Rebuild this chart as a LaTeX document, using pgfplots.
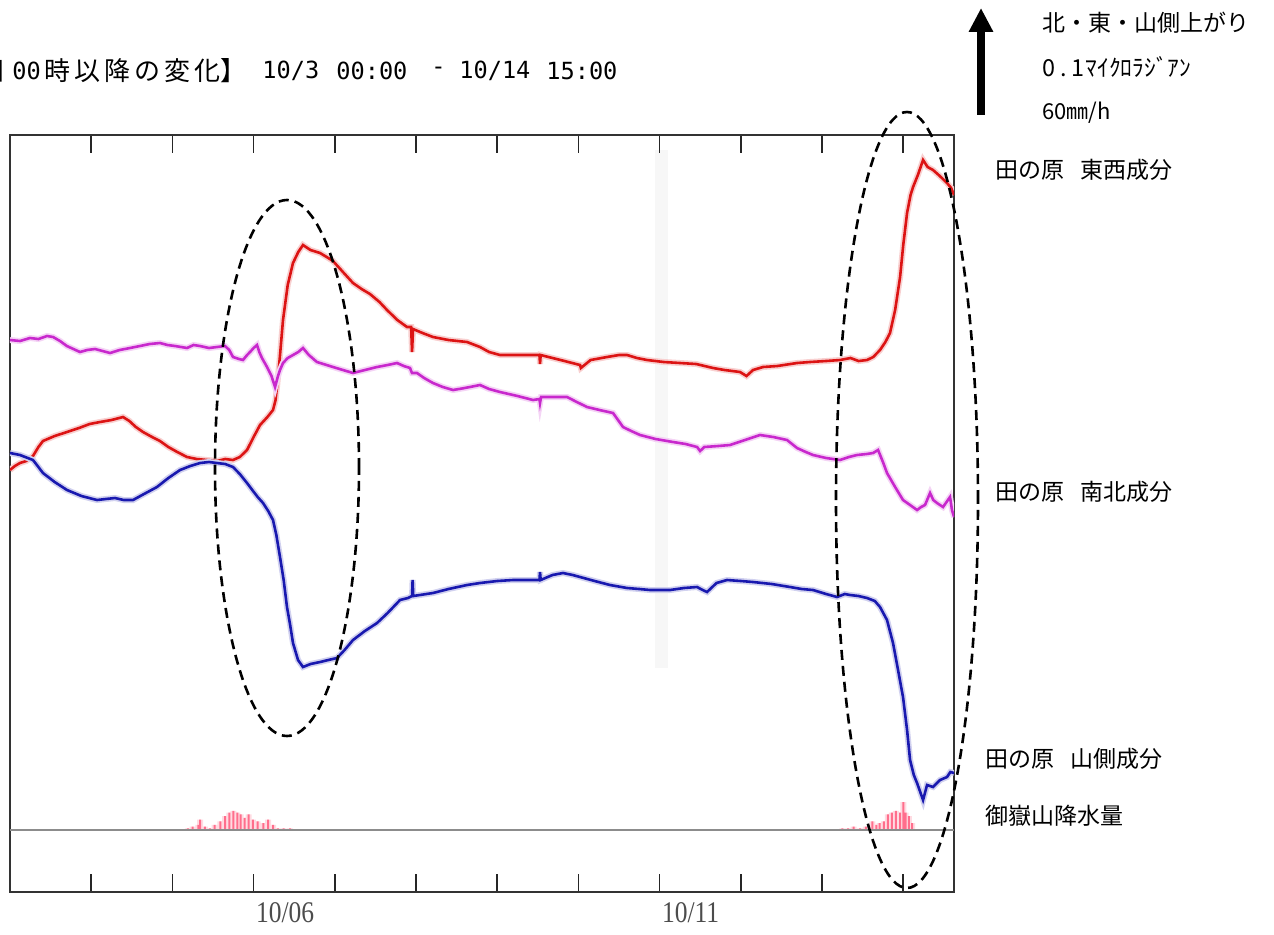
\documentclass[border=0pt]{standalone}
\usepackage{fontspec}
\usepackage{pgfplots}
\pgfplotsset{compat=1.18}
\usetikzlibrary{arrows.meta}
\setmainfont{Noto Sans CJK JP}
\newfontfamily\monofont{DejaVu Sans Mono}
\newfontfamily\tickfont[FakeStretch=0.85]{Liberation Serif}
\definecolor{ewred}{RGB}{220,20,20}
\definecolor{nsmag}{RGB}{200,40,205}
\definecolor{mtblue}{RGB}{25,25,175}
\definecolor{rainpink}{RGB}{255,110,140}

\begin{document}
\begin{tikzpicture}
\useasboundingbox (0pt,0pt) rectangle (637pt,467pt);
% faint vertical band
\fill[black!3] (327.5pt,133pt) rectangle (334pt,392pt);

% rain axis (mm/h), baseline at the grey line
\begin{axis}[at={(5pt,21pt)}, anchor=south west, scale only axis,
  width=472pt, height=378.5pt, hide axis, clip=true,
  xmin=0, xmax=11.625, ymin=-35.43, ymax=397.14]
\addplot[ybar, bar shift=0pt, bar width=3pt, fill=rainpink!25, draw=none] coordinates {
(2.19,1)(2.25,2)(2.32,3)(2.34,6)(2.40,2)(2.46,1)(2.52,3)(2.59,5)(2.65,8)(2.70,10)(2.75,11)(2.80,10)(2.84,9)(2.89,7)(2.94,9)(2.99,6)(3.05,5)(3.12,4)(3.18,6)(3.24,3)(3.30,1)(3.37,1)(3.45,1)
(10.25,1)(10.32,1)(10.39,2)(10.47,1)(10.54,2)(10.62,5)(10.67,3)(10.71,4)(10.76,5)(10.81,9)(10.86,10)(10.91,11)(10.96,10)(11.00,16)(11.03,10)(11.07,8)(11.11,4)};
\addplot[ybar, bar shift=0pt, bar width=1pt, fill=rainpink, draw=none] coordinates {
(2.19,1)(2.25,2)(2.32,3)(2.34,6)(2.40,2)(2.46,1)(2.52,3)(2.59,5)(2.65,8)(2.70,10)(2.75,11)(2.80,10)(2.84,9)(2.89,7)(2.94,9)(2.99,6)(3.05,5)(3.12,4)(3.18,6)(3.24,3)(3.30,1)(3.37,1)(3.45,1)
(10.25,1)(10.32,1)(10.39,2)(10.47,1)(10.54,2)(10.62,5)(10.67,3)(10.71,4)(10.76,5)(10.81,9)(10.86,10)(10.91,11)(10.96,10)(11.00,16)(11.03,10)(11.07,8)(11.11,4)};
\end{axis}

% tilt axis (values in chart rows, downward)
\begin{axis}[at={(5pt,21pt)}, anchor=south west, scale only axis,
  width=472pt, height=378.5pt, clip=true,
  xmin=0, xmax=11.625, ymin=135, ymax=892, y dir=reverse,
  axis line style={black!80, line width=0.8pt},
  xtick={1,...,11}, xticklabels={,,10/06,,,,,10/11,,,},
  ytick=\empty, xtick pos=both, xticklabel pos=lower,
  tick align=inside, major tick length=9pt,
  tick style={black!85, line width=0.8pt},
  xticklabel style={font=\tickfont\fontsize{15pt}{15pt}\selectfont, text=black!70, anchor=north west, inner sep=0pt, yshift=-5pt, xshift=1pt}]
\addplot[black!45, line width=0.8pt] coordinates {(0,830)(11.625,830)};
\addplot[ewred, line width=1.3pt, preaction={draw=ewred!20, line width=3pt}] coordinates {
(0.000,470)(0.06,466)(0.123,463)(0.20,461)(0.283,456)(0.35,447)(0.406,441)(0.55,436)(0.702,432)(0.85,428)(0.98,424)(1.108,422)(1.25,420)(1.392,417)(1.47,421)(1.55,427)(1.638,432)(1.75,437)(1.847,441)(1.95,447)(2.06,452)(2.180,457)(2.30,459)(2.426,460)(2.55,461)(2.65,459)(2.746,460)(2.83,457)(2.919,450)(3.00,437)(3.079,425)(3.17,417)(3.239,410)(3.27,400)(3.288,387)(3.32,360)(3.362,320)(3.42,285)(3.485,263)(3.55,252)(3.608,245)(3.70,250)(3.818,253)(3.90,257)(3.978,261)(4.10,272)(4.224,283)(4.33,289)(4.433,294)(4.55,302)(4.643,310)(4.77,320)(4.889,327)(4.94,327)(4.951,352)(4.963,329)(5.08,333)(5.209,337)(5.40,340)(5.628,342)(5.788,347)(5.90,352)(6.034,355)(6.30,355)(6.52,355)(6.527,364)(6.535,355)(6.78,360)(7.020,365)(7.03,368)(7.15,360)(7.352,357)(7.50,355)(7.599,355)(7.72,358)(7.845,360)(8.05,362)(8.251,363)(8.45,364)(8.658,368)(8.80,370)(8.990,372)(9.07,376)(9.15,370)(9.273,367)(9.45,366)(9.692,363)(9.85,362)(10.05,361)(10.222,360)(10.35,358)(10.45,361)(10.554,360)(10.63,357)(10.714,350)(10.78,342)(10.837,333)(10.90,310)(10.961,277)(11.00,245)(11.047,213)(11.09,195)(11.121,187)(11.18,175)(11.244,160)(11.30,167)(11.367,170)(11.45,176)(11.539,183)(11.59,188)(11.626,195)};
\addplot[nsmag, line width=1.3pt, preaction={draw=nsmag!20, line width=3pt}] coordinates {
(0,340)(0.123,341)(0.246,338)(0.35,339)(0.456,336)(0.53,337)(0.616,341)(0.70,346)(0.862,352)(0.95,350)(1.047,349)(1.14,351)(1.232,353)(1.35,350)(1.478,348)(1.60,346)(1.72,344)(1.847,343)(1.94,345)(2.032,346)(2.180,348)(2.26,345)(2.340,346)(2.45,348)(2.549,347)(2.648,346)(2.70,350)(2.746,357)(2.82,359)(2.869,360)(2.92,355)(2.956,352)(3.00,348)(3.042,345)(3.07,352)(3.103,358)(3.165,367)(3.22,376)(3.264,387)(3.30,376)(3.325,370)(3.362,363)(3.42,358)(3.485,355)(3.55,352)(3.608,348)(3.68,355)(3.780,362)(3.978,367)(4.10,370)(4.224,373)(4.37,370)(4.520,367)(4.65,365)(4.766,363)(4.85,366)(4.926,368)(4.95,373)(5.012,373)(5.10,378)(5.209,383)(5.33,387)(5.456,390)(5.60,388)(5.788,385)(5.90,389)(6.034,392)(6.25,396)(6.441,400)(6.52,399)(6.527,403)(6.54,397)(6.70,397)(6.860,397)(6.98,402)(7.106,407)(7.26,410)(7.426,413)(7.549,427)(7.65,431)(7.759,435)(7.95,439)(8.165,442)(8.32,444)(8.461,447)(8.498,451)(8.55,447)(8.72,446)(8.867,445)(9.05,440)(9.236,435)(9.40,437)(9.569,440)(9.692,448)(9.80,452)(9.889,455)(10.05,458)(10.222,460)(10.33,457)(10.431,455)(10.55,454)(10.628,453)(10.690,450)(10.75,462)(10.800,473)(10.90,487)(10.997,500)(11.084,505)(11.170,510)(11.22,507)(11.268,505)(11.330,493)(11.37,500)(11.416,503)(11.490,507)(11.576,497)(11.60,510)(11.626,517)};
\addplot[mtblue, line width=1.3pt, preaction={draw=mtblue!20, line width=3pt}] coordinates {
(0,453)(0.123,455)(0.283,460)(0.35,467)(0.406,473)(0.55,482)(0.702,490)(0.88,496)(1.071,500)(1.18,499)(1.293,498)(1.40,500)(1.515,500)(1.65,494)(1.810,487)(1.95,478)(2.094,470)(2.22,466)(2.340,463)(2.45,462)(2.549,463)(2.65,464)(2.746,467)(2.83,474)(2.919,483)(2.993,491)(3.05,497)(3.116,503)(3.18,511)(3.239,520)(3.28,535)(3.325,557)(3.37,580)(3.411,607)(3.45,625)(3.485,643)(3.547,660)(3.608,667)(3.70,664)(3.818,662)(3.92,660)(4.027,658)(4.12,650)(4.224,640)(4.37,631)(4.520,623)(4.65,613)(4.803,600)(4.90,598)(4.951,596)(4.958,580)(4.966,596)(5.209,593)(5.40,589)(5.628,585)(5.788,583)(6.00,581)(6.195,580)(6.35,580)(6.52,580)(6.527,572)(6.535,580)(6.68,575)(6.810,573)(6.93,575)(7.020,577)(7.20,581)(7.389,585)(7.599,588)(7.75,589)(7.882,590)(8.128,590)(8.30,588)(8.461,587)(8.53,590)(8.584,592)(8.70,583)(8.830,580)(9.00,581)(9.150,582)(9.38,584)(9.606,587)(9.75,589)(9.889,590)(10.05,594)(10.185,597)(10.28,594)(10.345,595)(10.45,596)(10.554,598)(10.65,601)(10.714,607)(10.800,620)(10.874,643)(10.936,670)(10.997,697)(11.047,730)(11.084,760)(11.13,775)(11.170,783)(11.244,800)(11.293,785)(11.367,787)(11.453,780)(11.539,777)(11.58,772)(11.626,773)};
\end{axis}

% annotation ellipses
\draw[black, line width=1.3pt, dash pattern=on 5pt off 3pt] (143.5pt,233pt) ellipse [x radius=36pt, y radius=134pt];
\draw[black, line width=1.3pt, dash pattern=on 5pt off 3pt] (453.5pt,217pt) ellipse [x radius=35.5pt, y radius=194pt];

% title (left part cut off by the picture edge, as in the original)
\tikzset{ttl/.style={inner sep=0pt, font=\fontsize{13pt}{13pt}\selectfont},
         ttm/.style={anchor=west, inner sep=0pt, font=\monofont\fontsize{11.8pt}{11.8pt}\selectfont}}
\node[ttl, anchor=east] at (3.5pt,431.5pt) {【10月3日};
\node[ttm] at (6pt,431.5pt) {00};
\node[ttl, anchor=west] at (22pt,431.5pt) {時\kern2pt 以\kern2pt 降\kern2pt の\kern2pt 変\kern2pt 化】};
\node[ttm] at (131pt,431.5pt) {10/3};
\node[ttm] at (168pt,431.5pt) {00:00};
\node[ttm] at (215.5pt,431.5pt) {-};
\node[ttm] at (229.5pt,431.5pt) {10/14};
\node[ttm] at (273pt,431.5pt) {15:00};

% arrow and legend text
\draw[line width=4pt, -{Triangle[width=11.5pt,length=12pt]}] (490.5pt,409.5pt) -- (490.5pt,463pt);
\node[anchor=west, inner sep=0pt, font=\fontsize{11.5pt}{11.5pt}\selectfont] at (521pt,455.5pt) {北・東・山側上がり};
\node[anchor=west, inner sep=0pt, font=\fontsize{11.7pt}{11.7pt}\selectfont] at (521pt,433.5pt) {0\kern2.5pt.\kern2.5pt1\kern0.5pt ﾏｲｸﾛﾗｼﾞｱﾝ};
\node[anchor=west, inner sep=0pt, font=\fontsize{11pt}{11pt}\selectfont] at (521pt,410.5pt) {60㎜/h};
\node[anchor=west, inner sep=0pt, font=\fontsize{11.5pt}{11.5pt}\selectfont] at (497.5pt,382pt) {田の原\hspace{8pt}東西成分};
\node[anchor=west, inner sep=0pt, font=\fontsize{11.5pt}{11.5pt}\selectfont] at (497.5pt,221pt) {田の原\hspace{8pt}南北成分};
\node[anchor=west, inner sep=0pt, font=\fontsize{11.5pt}{11.5pt}\selectfont] at (492.5pt,87.5pt) {田の原\hspace{8pt}山側成分};
\node[anchor=west, inner sep=0pt, font=\fontsize{11.5pt}{11.5pt}\selectfont] at (492.5pt,59pt) {御嶽山降水量};
\end{tikzpicture}
\end{document}
